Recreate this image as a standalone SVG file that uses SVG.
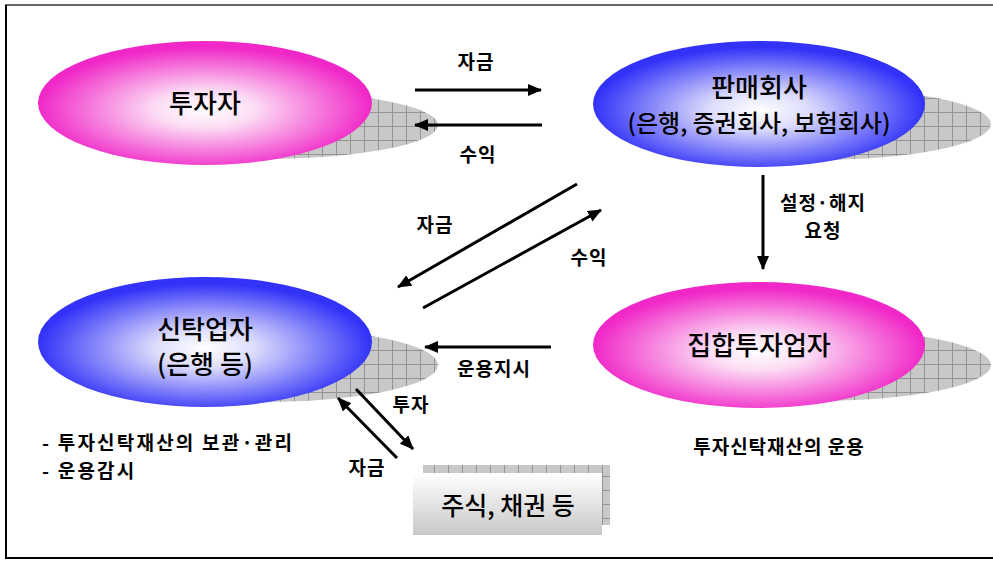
<svg xmlns="http://www.w3.org/2000/svg" width="993" height="561" viewBox="0 0 993 561">
<defs>
<radialGradient id="gPink" cx="50%" cy="55%" r="50%">
<stop offset="0" stop-color="#ffffff"/>
<stop offset="0.3" stop-color="#fcdcf4"/>
<stop offset="1" stop-color="#f028c8"/>
</radialGradient>
<radialGradient id="gBlue" cx="50%" cy="55%" r="50%">
<stop offset="0" stop-color="#ffffff"/>
<stop offset="0.3" stop-color="#dcdcfc"/>
<stop offset="1" stop-color="#3232f8"/>
</radialGradient>
<linearGradient id="gBox" x1="0" y1="0" x2="0" y2="1">
<stop offset="0" stop-color="#ffffff"/>
<stop offset="1" stop-color="#c8c8c8"/>
</linearGradient>
<pattern id="grid" width="14" height="14" patternUnits="userSpaceOnUse">
<rect width="14" height="14" fill="#c8c8c8"/>
<path d="M0 0.5H14M0.5 0V14" stroke="#949494" stroke-width="1" fill="none"/>
</pattern>
<marker id="ah" viewBox="0 0 14 12" refX="13" refY="6" markerWidth="14" markerHeight="12" markerUnits="userSpaceOnUse" orient="auto">
<path d="M0 0L14 6L0 12Z" fill="#000"/>
</marker>
</defs>
<style>
.big{font-family:"Noto Sans CJK KR","Noto Sans",sans-serif;font-size:26px;font-weight:500;fill:#000;text-anchor:middle}
.lbl{font-family:"Noto Sans CJK KR","Noto Sans",sans-serif;font-size:19px;font-weight:bold;letter-spacing:1px;fill:#000;text-anchor:middle}
.note{font-family:"Noto Sans CJK KR","Noto Sans",sans-serif;font-size:19px;font-weight:bold;letter-spacing:2.2px;fill:#000}
.ln{stroke:#000;stroke-width:3;fill:none;marker-end:url(#ah)}
.shadow{fill:url(#grid)}
</style>
<g id="frame">
<line x1="5" y1="5" x2="993" y2="5" stroke="#666" stroke-width="2"/>
<line x1="6" y1="5" x2="6" y2="558" stroke="#000" stroke-width="2"/>
<line x1="5" y1="558" x2="993" y2="558" stroke="#000" stroke-width="2"/>
</g>
<g id="investor">
<ellipse class="shadow" cx="262" cy="125" rx="176" ry="34"/>
<ellipse cx="205" cy="103" rx="167" ry="62" fill="url(#gPink)"/>
<text class="big" x="205" y="113">투자자</text>
</g>
<g id="seller">
<ellipse class="shadow" cx="815" cy="124" rx="176" ry="36"/>
<ellipse cx="759" cy="104" rx="166" ry="63" fill="url(#gBlue)"/>
<text class="big" x="759" y="97">판매회사</text>
<text class="big" x="759" y="132" style="font-size:24px">(은행, 증권회사, 보험회사)</text>
</g>
<g id="trustee">
<ellipse class="shadow" cx="262" cy="365" rx="176" ry="37"/>
<ellipse cx="205" cy="342" rx="167" ry="65" fill="url(#gBlue)"/>
<text class="big" x="205" y="339">신탁업자</text>
<text class="big" x="205" y="374">(은행 등)</text>
</g>
<g id="manager">
<ellipse class="shadow" cx="815" cy="365" rx="176" ry="36"/>
<ellipse cx="759" cy="345" rx="166" ry="63" fill="url(#gPink)"/>
<text class="big" x="759" y="355">집합투자업자</text>
</g>
<g id="securities">
<rect class="shadow" x="423" y="465" width="187" height="60"/>
<rect x="413" y="473" width="189" height="62" fill="url(#gBox)"/>
<text class="big" x="508" y="515" style="font-size:25px">주식, 채권 등</text>
</g>
<g id="connectors">
<line class="ln" x1="415" y1="90" x2="541" y2="90"/>
<line class="ln" x1="542" y1="125" x2="415" y2="125"/>
<line class="ln" x1="577" y1="184" x2="398" y2="287"/>
<line class="ln" x1="423" y1="308" x2="601" y2="210"/>
<line class="ln" x1="763" y1="175" x2="763" y2="269"/>
<line class="ln" x1="551" y1="347" x2="425" y2="347"/>
<line class="ln" x1="356" y1="389" x2="413" y2="449"/>
<line class="ln" x1="397" y1="458" x2="338" y2="398"/>
</g>
<g id="labels">
<text class="lbl" x="476" y="69">자금</text>
<text class="lbl" x="478" y="162">수익</text>
<text class="lbl" x="435" y="232">자금</text>
<text class="lbl" x="589" y="265">수익</text>
<text class="lbl" x="823" y="210">설정·해지</text>
<text class="lbl" x="823" y="238">요청</text>
<text class="lbl" x="494" y="376">운용지시</text>
<text class="lbl" x="411" y="412">투자</text>
<text class="lbl" x="367" y="475">자금</text>
<text class="note" x="42" y="450">- 투자신탁재산의 보관·관리</text>
<text class="note" x="42" y="478">- 운용감시</text>
<text class="lbl" x="779" y="454">투자신탁재산의 운용</text>
</g>
</svg>
